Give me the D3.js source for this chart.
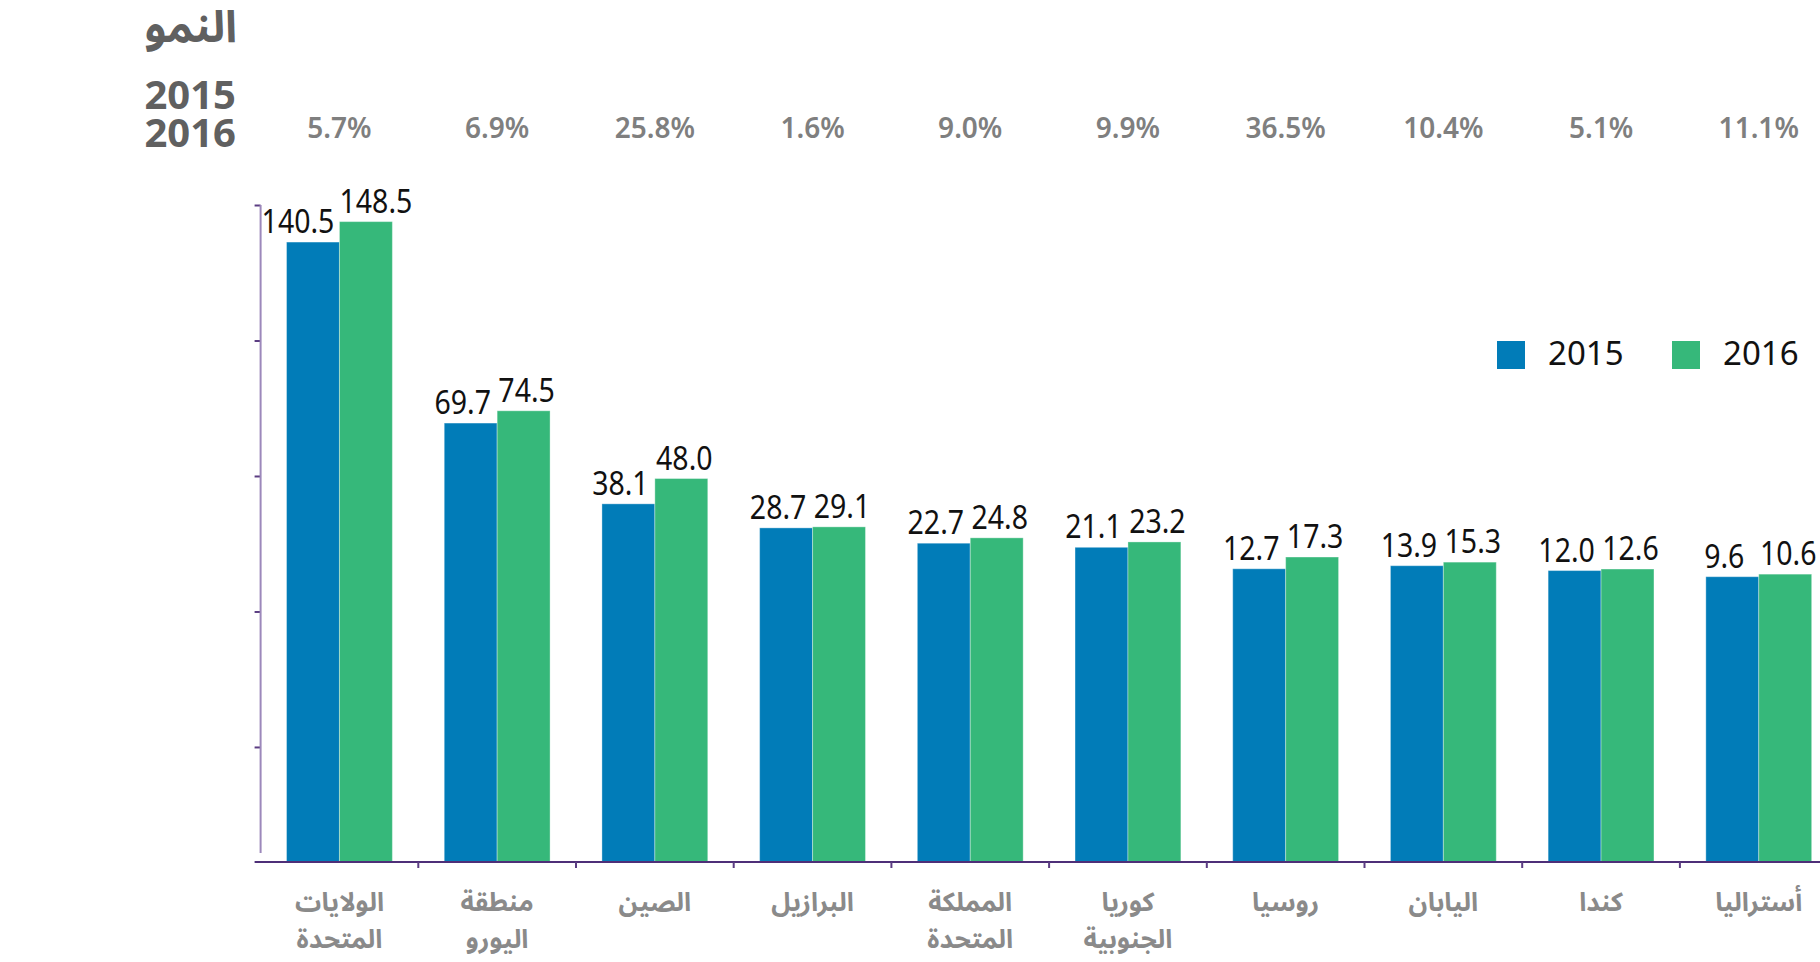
<!DOCTYPE html>
<html>
<head>
<meta charset="utf-8">
<script src="https://cdn.jsdelivr.net/npm/d3@7"></script>
<style>
  html, body { margin: 0; padding: 0; background: #ffffff; overflow: hidden; }
  svg { display: block; }
</style>
</head>
<body>
<svg id="chart" width="1820" height="962"></svg>
<script>
// ---------------- data ----------------
const categories = ["الولايات المتحدة", "منطقة اليورو", "الصين", "البرازيل", "المملكة المتحدة",
                    "كوريا الجنوبية", "روسيا", "اليابان", "كندا", "أستراليا"];
const seriesNames = ["2015", "2016"];
const values2015 = [140.5, 69.7, 38.1, 28.7, 22.7, 21.1, 12.7, 13.9, 12.0, 9.6];
const values2016 = [148.5, 74.5, 48.0, 29.1, 24.8, 23.2, 17.3, 15.3, 12.6, 10.6];
const growth = [5.7, 6.9, 25.8, 1.6, 9.0, 9.9, 36.5, 10.4, 5.1, 11.1];
const yTickValues = [-57, -4, 49, 102, 155];
const growthHeader = "النمو";
const growthYears = ["2015", "2016"];

// ---------------- layout ----------------
const colors = { "2015": "#017cb8", "2016": "#36b87a" };
const svg = d3.select("#chart");
const axisX = 260.6, baseY = 862, topY = 205;
const step = 157.7;

const x0 = d3.scaleBand().domain(categories)
  .range([axisX, axisX + step * categories.length]).padding(0);
const x1 = d3.scaleBand().domain(seriesNames)
  .range([0, x0.bandwidth()]).paddingInner(0).paddingOuter(0.49);
const y = d3.scaleLinear().domain([-102, 155]).range([baseY, topY]);

const rows = categories.map((c, i) => ({
  cat: c, vals: [
    { s: "2015", v: values2015[i] },
    { s: "2016", v: values2016[i] }
  ]
}));

// bars
const g = svg.append("g");
const groups = g.selectAll("g.grp").data(rows).join("g")
  .attr("class", "grp")
  .attr("transform", d => `translate(${x0(d.cat)},0)`);

groups.selectAll("rect").data(d => d.vals).join("rect")
  .attr("x", d => x1(d.s))
  .attr("y", d => y(d.v))
  .attr("width", x1.bandwidth())
  .attr("height", d => y(y.domain()[0]) - y(d.v))
  .attr("fill", d => colors[d.s])
  .attr("stroke", "rgba(255,255,255,0.35)")
  .attr("stroke-width", 1);

// value labels (nudged apart so neighbouring labels do not collide)
groups.selectAll("text.val").data(d => d.vals).join("text")
  .attr("class", "val")
  .attr("transform", d => {
    const wide = d.v >= 100 ? 7 : 0;
    const cx = x1(d.s) + x1.bandwidth() / 2 + (d.s === "2015" ? -8 - wide : 3 + wide);
    return `translate(${cx},${y(d.v) - 9}) scale(0.89,1)`;
  })
  .attr("text-anchor", "middle")
  .attr("font-family", "'Noto Sans', 'Open Sans', sans-serif")
  .attr("font-size", 32)
  .attr("fill", "#111")
  .text(d => d.v.toFixed(1));

// y axis (no labels)
const yAxis = d3.axisLeft(y).tickValues(yTickValues).tickSize(6).tickFormat("");
const ya = svg.append("g").attr("transform", `translate(${axisX},0)`).call(yAxis);
ya.select(".domain").remove();
ya.selectAll(".tick line").attr("stroke", "#5b3d82").attr("stroke-width", 2);
svg.append("line")
  .attr("x1", axisX).attr("x2", axisX)
  .attr("y1", topY).attr("y2", baseY - 9)
  .attr("stroke", "#9c88bb").attr("stroke-width", 2);

// x axis with ticks at band boundaries
const boundaries = categories.slice(1).map(c => x0(c));
svg.append("line")
  .attr("x1", axisX - 6).attr("x2", 1820)
  .attr("y1", baseY).attr("y2", baseY)
  .attr("stroke", "#4e2f78").attr("stroke-width", 2);
svg.selectAll("line.xt").data(boundaries).join("line")
  .attr("class", "xt")
  .attr("x1", d => d).attr("x2", d => d)
  .attr("y1", baseY).attr("y2", baseY + 6)
  .attr("stroke", "#5b3d82").attr("stroke-width", 2);

// category labels
const catText = svg.selectAll("text.cat").data(categories).join("text")
  .attr("class", "cat")
  .attr("text-anchor", "middle")
  .attr("font-family", "'Noto Sans Arabic', 'DejaVu Sans', sans-serif")
  .attr("font-weight", "bold")
  .attr("font-size", 26)
  .attr("fill", "#8a8a8a");
catText.each(function(d) {
  const words = d.split(" ");
  const cx = x0(d) + x0.bandwidth() / 2;
  d3.select(this).selectAll("tspan").data(words).join("tspan")
    .attr("x", cx)
    .attr("y", (w, i) => 911 + i * 37)
    .text(w => w);
});

// growth row
svg.selectAll("text.gr").data(categories).join("text")
  .attr("class", "gr")
  .attr("x", d => x0(d) + x0.bandwidth() / 2)
  .attr("y", 138)
  .attr("text-anchor", "middle")
  .attr("font-family", "'Noto Sans', sans-serif")
  .attr("font-weight", 600)
  .attr("font-size", 28)
  .attr("fill", "#7f7f7f")
  .text((d, i) => growth[i].toFixed(1) + "%");

// growth header
svg.append("text")
  .attr("x", 237).attr("y", 42)
  .attr("text-anchor", "end")
  .attr("font-family", "'Noto Sans Arabic', 'DejaVu Sans', sans-serif")
  .attr("font-weight", "bold")
  .attr("font-size", 44)
  .attr("fill", "#606060")
  .text(growthHeader);
svg.selectAll("text.gy").data(growthYears).join("text")
  .attr("class", "gy")
  .attr("x", 236)
  .attr("y", (d, i) => 109 + i * 37.5)
  .attr("text-anchor", "end")
  .attr("font-family", "'Noto Sans', sans-serif")
  .attr("font-weight", "bold")
  .attr("font-size", 40)
  .attr("fill", "#606060")
  .text(d => d);

// legend
const legendX = [1497, 1672];
const leg = svg.selectAll("g.leg").data(seriesNames).join("g")
  .attr("class", "leg")
  .attr("transform", (d, i) => `translate(${legendX[i]},341)`);
leg.append("rect").attr("width", 28).attr("height", 28).attr("fill", d => colors[d]);
leg.append("text")
  .attr("x", 51).attr("y", 23.5)
  .attr("font-family", "'Noto Sans', sans-serif")
  .attr("font-size", 33)
  .attr("fill", "#111")
  .text(d => d);
</script>
</body>
</html>
